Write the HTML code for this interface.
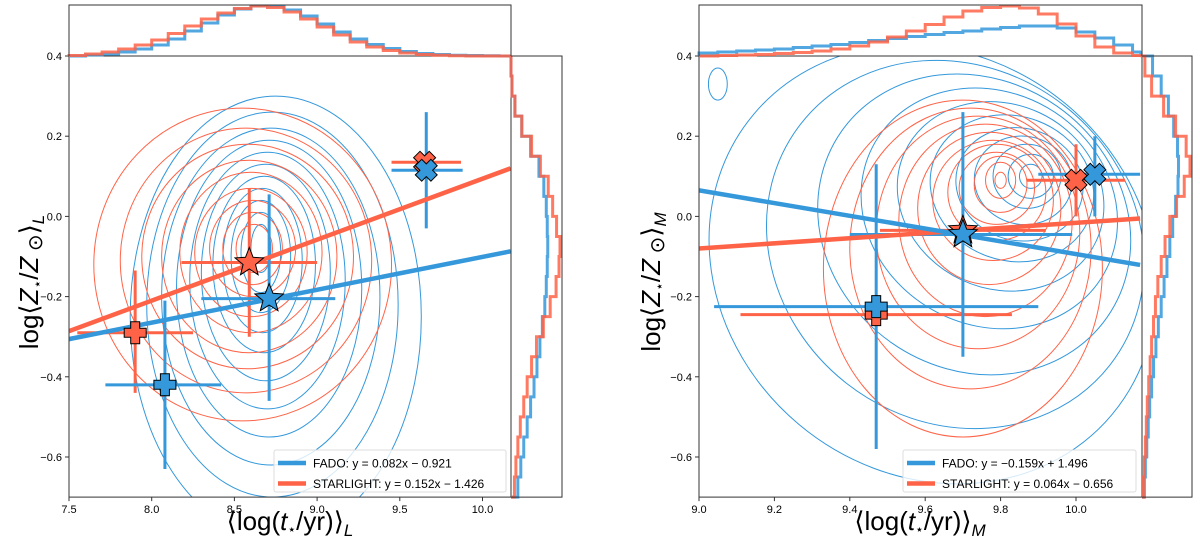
<!DOCTYPE html>
<html><head><meta charset="utf-8"><style>
html,body{margin:0;padding:0;background:#fff;overflow:hidden;}
svg{display:block;font-family:"Liberation Sans","DejaVu Sans",sans-serif;}
</style></head><body>
<svg id="fig" width="1200" height="549" viewBox="0 0 1200 549" xmlns="http://www.w3.org/2000/svg"></svg>
<script>
const BLUE='#3498db', ORANGE='#ff6347';
// ---------- Panel L data ----------
const L_xticks=[7.5,8.0,8.5,9.0,9.5,10.0];
const L_xtickLabels=['7.5','8.0','8.5','9.0','9.5','10.0'];
const yticks=[0.4,0.2,0.0,-0.2,-0.4,-0.6];
const ytickLabels=['0.4','0.2','0.0','\u22120.2','\u22120.4','\u22120.6'];
const L_fado=[0.082,-0.921];
const L_star=[0.152,-1.426];
// points: [x, y, xlo, xhi, ylo, yhi]
const L_fadoStar=[8.71,-0.205,8.30,9.11,-0.46,0.055];
const L_starStar=[8.59,-0.115,8.18,9.00,-0.30,0.07];
const L_fadoPlus=[8.08,-0.42,7.72,8.42,-0.63,-0.21];
const L_starPlus=[7.90,-0.29,7.55,8.25,-0.44,-0.135];
const L_fadoX=[9.66,0.115,9.45,9.88,-0.03,0.26];
const L_starX=[9.65,0.135,9.45,9.87,0.135,0.135];
const L_blueCont=[[8.75,-0.25,0.88,0.55],[8.73,-0.22,0.76,0.48],[8.72,-0.20,0.66,0.42],[8.71,-0.18,0.56,0.37],[8.70,-0.16,0.47,0.32],[8.69,-0.14,0.39,0.27],[8.68,-0.12,0.31,0.22],[8.67,-0.11,0.24,0.18],[8.66,-0.10,0.18,0.14],[8.66,-0.09,0.12,0.10],[8.66,-0.08,0.06,0.06]];
const L_orCont=[[8.55,-0.12,0.90,0.39],[8.57,-0.11,0.76,0.33],[8.58,-0.10,0.64,0.28],[8.59,-0.10,0.53,0.24],[8.60,-0.09,0.43,0.20],[8.60,-0.09,0.34,0.16],[8.61,-0.08,0.26,0.12],[8.61,-0.08,0.18,0.09],[8.62,-0.08,0.11,0.06]];
const L_topBins=[7.5,7.6,7.7,7.8,7.9,8.0,8.1,8.2,8.3,8.4,8.5,8.6,8.7,8.8,8.9,9.0,9.1,9.2,9.3,9.4,9.5,9.6,9.7,9.8,9.9,10.0,10.1];
const L_topOr=[0.01,0.04,0.08,0.14,0.22,0.32,0.45,0.6,0.74,0.86,0.95,1.0,0.97,0.88,0.74,0.58,0.42,0.28,0.18,0.11,0.06,0.03,0.015,0.005,0,0,0];
const L_topBl=[0,0.02,0.04,0.08,0.14,0.22,0.34,0.5,0.66,0.82,0.94,1.0,1.0,0.92,0.8,0.64,0.48,0.34,0.23,0.15,0.09,0.05,0.03,0.015,0.01,0.005,0];
const sideBins=[-0.7,-0.65,-0.6,-0.55,-0.5,-0.45,-0.4,-0.35,-0.3,-0.25,-0.2,-0.15,-0.1,-0.05,0,0.05,0.1,0.15,0.2,0.25,0.3,0.35];
const L_sideOr=[0.07,0.1,0.14,0.19,0.26,0.33,0.42,0.52,0.66,0.8,0.92,0.98,1.0,0.93,0.85,0.76,0.6,0.42,0.22,0.08,0.02,0];
const L_sideBl=[0.14,0.2,0.26,0.33,0.4,0.47,0.53,0.59,0.64,0.69,0.72,0.74,0.75,0.74,0.72,0.67,0.57,0.4,0.22,0.08,0.02,0];
// ---------- Panel R data ----------
const R_xticks=[9.0,9.2,9.4,9.6,9.8,10.0];
const R_xtickLabels=['9.0','9.2','9.4','9.6','9.8','10.0'];
const R_fado=[-0.159,1.496];
const R_star=[0.064,-0.656];
const R_fadoStar=[9.70,-0.045,9.40,9.99,-0.35,0.26];
const R_starStar=[9.70,-0.035,9.48,9.92,-0.035,-0.035];
const R_fadoPlus=[9.47,-0.225,9.04,9.90,-0.58,0.13];
const R_starPlus=[9.47,-0.245,9.11,9.83,-0.245,-0.245];
const R_fadoX=[10.05,0.105,9.90,10.17,0.0,0.2];
const R_starX=[10.00,0.09,9.87,10.13,0.0,0.18];
const R_orCont=[[9.70,-0.13,0.37,0.42,0],[9.72,-0.08,0.32,0.35,0],[9.74,-0.04,0.27,0.29,0],[9.76,-0.01,0.23,0.24,0],[9.77,0.02,0.19,0.19,0],[9.78,0.04,0.16,0.15,0],[9.79,0.06,0.13,0.12,0],[9.79,0.07,0.10,0.09,0],[9.80,0.08,0.07,0.07,0],[9.80,0.09,0.04,0.045,0],[9.80,0.09,0.015,0.02,0]];
const R_blueCont=[[9.62,-0.12,0.62,0.52,40],[9.68,-0.07,0.52,0.44,38],[9.73,-0.02,0.43,0.36,35],[9.77,0.02,0.35,0.29,30],[9.80,0.05,0.28,0.23,25],[9.83,0.07,0.22,0.18,20],[9.85,0.08,0.17,0.14,15],[9.86,0.09,0.13,0.11,10],[9.87,0.10,0.09,0.08,0],[9.88,0.10,0.06,0.055,0],[9.88,0.10,0.03,0.03,0],[9.05,0.33,0.025,0.04,0]];
const R_topBins=[9.0,9.05,9.1,9.15,9.2,9.25,9.3,9.35,9.4,9.45,9.5,9.55,9.6,9.65,9.7,9.75,9.8,9.85,9.9,9.95,10.0,10.05,10.1,10.15];
const R_topOr=[0,0.01,0.02,0.03,0.05,0.07,0.1,0.14,0.2,0.28,0.38,0.5,0.63,0.78,0.9,0.97,1.0,0.96,0.84,0.64,0.4,0.18,0.06,0.01];
const R_topBl=[0.06,0.08,0.1,0.12,0.14,0.17,0.2,0.23,0.27,0.31,0.35,0.39,0.43,0.47,0.5,0.54,0.57,0.6,0.6,0.56,0.48,0.36,0.22,0.08];
const R_sideOr=[0.03,0.05,0.07,0.09,0.11,0.14,0.17,0.2,0.24,0.28,0.33,0.4,0.48,0.58,0.72,0.88,1.0,0.92,0.7,0.45,0.2,0.06];
const R_sideBl=[0.05,0.07,0.1,0.13,0.16,0.2,0.24,0.29,0.34,0.4,0.46,0.52,0.58,0.64,0.7,0.75,0.76,0.74,0.66,0.55,0.4,0.22];

const svg=document.getElementById('fig');
const NS='http://www.w3.org/2000/svg';
function el(tag,attrs,parent){const e=document.createElementNS(NS,tag);for(const k in attrs)e.setAttribute(k,attrs[k]);(parent||svg).appendChild(e);return e;}

function panel(P){
  const g=el('g',{});
  
  
  const X=v=>P.x0+(v-P.xmin)*P.sx;
  const Y=v=>P.y0+(0.4-v)*401;
  const yBot=Y(-0.7);
  const cid='clip'+P.name;
  const cp=el('clipPath',{id:cid},g);el('rect',{x:P.x0,y:P.y0,width:P.x1-P.x0,height:yBot-P.y0},cp);
  const cg=el('g',{'clip-path':'url(#'+cid+')'},g);
  function cont(arr,color,nm){arr.forEach(c=>{const rot=c[4]||0;const e=el('ellipse',{cx:X(c[0]),cy:Y(c[1]),rx:c[2]*P.sx,ry:c[3]*401,fill:'none',stroke:color,'stroke-width':1,transform:'rotate('+rot+' '+X(c[0])+' '+Y(c[1])+')'},cg);
    
    });}
  cont(P.blueCont,BLUE,'fado-contour');cont(P.orCont,ORANGE,'starlight-contour');
  function fit(c,color,nm){const a=P.xmin,b=P.xmax;const l=el('line',{x1:X(a),y1:Y(c[0]*a+c[1]),x2:X(b),y2:Y(c[0]*b+c[1]),stroke:color,'stroke-width':4.5},cg);
    
    }
  function err(p,color,nm){const e1=el('line',{x1:X(p[2]),x2:X(p[3]),y1:Y(p[1]),y2:Y(p[1]),stroke:color,'stroke-width':3},cg);
    
    
    const e2=el('line',{x1:X(p[0]),x2:X(p[0]),y1:Y(p[4]),y2:Y(p[5]),stroke:color,'stroke-width':3},cg);
    
    }
  function marker(p,shape,color,nm){const cx=X(p[0]),cy=Y(p[1]);let d='';
    if(shape==='star'){for(let i=0;i<10;i++){const r=i%2?6.5:15;const a=-Math.PI/2+i*Math.PI/5;d+=(i?'L':'M')+(cx+r*Math.cos(a)).toFixed(1)+' '+(cy+r*Math.sin(a)).toFixed(1);}d+='Z';}
    else{const a=4.5,b=11;const pts=[[-a,-b],[a,-b],[a,-a],[b,-a],[b,a],[a,a],[a,b],[-a,b],[-a,a],[-b,a],[-b,-a],[-a,-a]];const ang=shape==='x'?Math.PI/4:0;
      pts.forEach((q,i)=>{const x=q[0]*Math.cos(ang)-q[1]*Math.sin(ang),y=q[0]*Math.sin(ang)+q[1]*Math.cos(ang);d+=(i?'L':'M')+(cx+x).toFixed(1)+' '+(cy+y).toFixed(1);});d+='Z';}
    const m=el('path',{d:d,fill:color,stroke:'#000','stroke-width':1},cg);
    
    }
  err(P.starPlus,ORANGE,'starlight-plus');err(P.fadoPlus,BLUE,'fado-plus');
  err(P.starStar,ORANGE,'starlight-star');err(P.fadoStar,BLUE,'fado-star');
  err(P.starX,ORANGE,'starlight-x');err(P.fadoX,BLUE,'fado-x');
  fit(P.starFit,ORANGE,'starlight-fit-line');fit(P.fadoFit,BLUE,'fado-fit-line');
  P.order.forEach(o=>marker(o[0],o[1],o[2],o[3]));
  const fr=el('rect',{x:P.x0,y:P.y0,width:P.x1-P.x0,height:yBot-P.y0,fill:'none',stroke:'#333','stroke-width':1},g);
  
  
  P.xticks.forEach((t,i)=>{const x=X(t);el('line',{x1:x,x2:x,y1:yBot,y2:yBot+4,stroke:'#333'},g);
    const tx=el('text',{x:x,y:yBot+16,'font-size':11,'text-anchor':'middle',fill:'#000'},g);tx.textContent=P.xtickLabels[i];
    
    });
  yticks.forEach((t,i)=>{const y=Y(t);el('line',{x1:P.x0-4,x2:P.x0,y1:y,y2:y,stroke:'#333'},g);
    const tx=el('text',{x:P.x0-7,y:y+4,'font-size':11,'text-anchor':'end',fill:'#000'},g);tx.textContent=ytickLabels[i];
    
    });
  const xt=el('text',{x:P.xtitleX,y:530,'font-size':26,'text-anchor':'middle',fill:'#000'},g);
  xt.innerHTML='\u27E8log(<tspan font-style="italic">t</tspan><tspan font-size="14" dy="4">\u22C6</tspan><tspan dy="-4">/yr)\u27E9</tspan><tspan font-style="italic" font-size="17" dy="6">'+P.sub+'</tspan>';
  
  
  const yt=el('text',{x:0,y:0,'font-size':26,'text-anchor':'middle',fill:'#000',transform:'translate('+P.ytitleX+',282) rotate(-90)'},g);
  yt.innerHTML='log\u27E8<tspan font-style="italic">Z</tspan><tspan font-size="14" dy="4">\u22C6</tspan><tspan dy="-4">/</tspan><tspan font-style="italic">Z</tspan><tspan font-size="20" dy="4"> \u2299</tspan><tspan dy="-4">\u27E9</tspan><tspan font-style="italic" font-size="17" dy="6">'+P.sub+'</tspan>';
  
  
  const hT=50,topBase=P.y0;
  function topHist(bins,vals,color,nm){let d='M'+X(bins[0])+' '+topBase;bins.forEach((b,i)=>{const y=topBase-vals[i]*hT;const xe=i<bins.length-1?bins[i+1]:P.xmax;d+='L'+X(b)+' '+y+'L'+Math.min(X(xe),P.x1)+' '+y;});d+='L'+P.x1+' '+topBase;
    const p=el('path',{d:d,fill:'none',stroke:color,'stroke-width':3,opacity:0.85},g);
    
    }
  topHist(P.topBins,P.topBl,BLUE,'fado-top-histogram');topHist(P.topBins,P.topOr,ORANGE,'starlight-top-histogram');
  const tf=el('path',{d:'M'+P.x0+' '+topBase+'V'+(P.y0-51)+'H'+P.x1+'V'+topBase,fill:'none',stroke:'#333','stroke-width':1},g);
  
  
  const wS=P.x2-P.x1;
  function sideHist(vals,color,nm){let d='M'+P.x1+' '+yBot;sideBins.forEach((b,i)=>{const x=P.x1+vals[i]*(wS-2);d+='L'+x+' '+Y(b)+'L'+x+' '+Math.max(Y(b+0.05),P.y0);});d+='L'+P.x1+' '+P.y0;
    const p=el('path',{d:d,fill:'none',stroke:color,'stroke-width':3,opacity:0.85},g);
    
    }
  sideHist(P.sideBl,BLUE,'fado-side-histogram');sideHist(P.sideOr,ORANGE,'starlight-side-histogram');
  const sf=el('path',{d:'M'+P.x1+' '+P.y0+'H'+P.x2+'V'+yBot+'H'+P.x1,fill:'none',stroke:'#333','stroke-width':1},g);
  
  
  const lg=el('g',{},g);
  
  
  el('rect',{x:P.legX,y:450,width:P.legW,height:42,rx:2,fill:'#fff','fill-opacity':0.8,stroke:'#ddd'},lg);
  P.legTexts.forEach((t,i)=>{const y=463+i*20.5;el('line',{x1:P.legX+4,x2:P.legX+32,y1:y,y2:y,stroke:i?ORANGE:BLUE,'stroke-width':4.5},lg);
    const tx=el('text',{x:P.legX+39,y:y+4.5,'font-size':12,fill:'#000'},lg);tx.textContent=t;
    
    });
}
panel({name:'panel-left',x0:69,x1:511,x2:562,y0:56,xmin:7.5,xmax:10.17,sx:165.4,
  xticks:L_xticks,xtickLabels:L_xtickLabels,fadoFit:L_fado,starFit:L_star,
  fadoStar:L_fadoStar,starStar:L_starStar,fadoPlus:L_fadoPlus,starPlus:L_starPlus,fadoX:L_fadoX,starX:L_starX,
  blueCont:L_blueCont,orCont:L_orCont,topBins:L_topBins,topOr:L_topOr,topBl:L_topBl,sideOr:L_sideOr,sideBl:L_sideBl,
  order:[[L_starPlus,'plus',ORANGE,'starlight-plus-marker'],[L_fadoPlus,'plus',BLUE,'fado-plus-marker'],[L_starStar,'star',ORANGE,'starlight-star-marker'],[L_fadoStar,'star',BLUE,'fado-star-marker'],[L_starX,'x',ORANGE,'starlight-x-marker'],[L_fadoX,'x',BLUE,'fado-x-marker']],
  xtitleX:290,ytitleX:38,sub:'L',legX:274,legW:232,
  legTexts:['FADO: y = 0.082x \u2212 0.921','STARLIGHT: y = 0.152x \u2212 1.426']});
panel({name:'panel-right',x0:699,x1:1142,x2:1192,y0:56,xmin:9.0,xmax:10.17,sx:377,
  xticks:R_xticks,xtickLabels:R_xtickLabels,fadoFit:R_fado,starFit:R_star,
  fadoStar:R_fadoStar,starStar:R_starStar,fadoPlus:R_fadoPlus,starPlus:R_starPlus,fadoX:R_fadoX,starX:R_starX,
  blueCont:R_blueCont,orCont:R_orCont,topBins:R_topBins,topOr:R_topOr,topBl:R_topBl,sideOr:R_sideOr,sideBl:R_sideBl,
  order:[[R_starPlus,'plus',ORANGE,'starlight-plus-marker'],[R_fadoPlus,'plus',BLUE,'fado-plus-marker'],[R_starStar,'star',ORANGE,'starlight-star-marker'],[R_fadoStar,'star',BLUE,'fado-star-marker'],[R_starX,'x',ORANGE,'starlight-x-marker'],[R_fadoX,'x',BLUE,'fado-x-marker']],
  xtitleX:920,ytitleX:660,sub:'M',legX:903,legW:233,
  legTexts:['FADO: y = \u22120.159x + 1.496','STARLIGHT: y = 0.064x \u2212 0.656']});
</script>
</body></html>
